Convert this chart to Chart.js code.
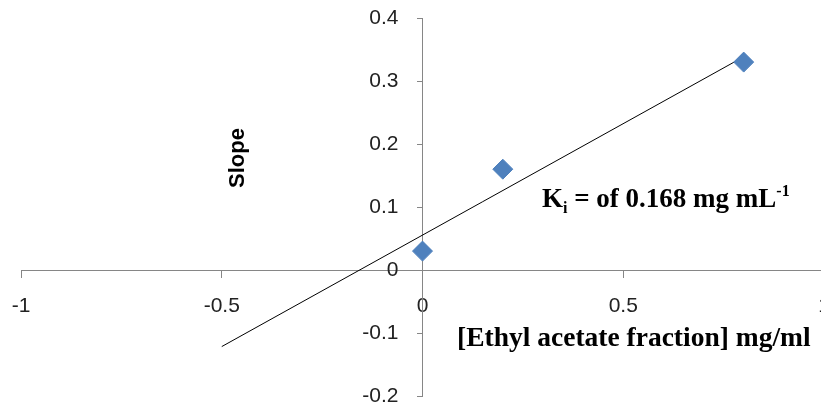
<!DOCTYPE html>
<html>
<head>
<meta charset="utf-8">
<script src="https://cdn.jsdelivr.net/npm/chart.js@4.4.1/dist/chart.umd.min.js"></script>
<style>
  html, body { margin: 0; padding: 0; background: #fff; overflow: hidden; }
  #wrap { width: 821px; height: 408px; overflow: hidden; }
</style>
</head>
<body>
<div id="wrap"><canvas id="myChart1" width="840" height="408"></canvas></div>
<script>
// measured points
var fractionMg = [0, 0.2, 0.8];
var slopeValues = [0.03, 0.16, 0.33];
// trendline drawn back to -0.5, up to the last point
var trendRange = [-0.5, 0.8];
var xTicks = [-1, -0.5, 0, 0.5, 1];
var yTicks = [-0.2, -0.1, 0, 0.1, 0.2, 0.3, 0.4];

// least squares fit for the trendline
var n = fractionMg.length, sx = 0, sy = 0, sxx = 0, sxy = 0;
for (var i = 0; i < n; i++) {
    sx += fractionMg[i]; sy += slopeValues[i];
    sxx += fractionMg[i] * fractionMg[i]; sxy += fractionMg[i] * slopeValues[i];
}
var m = (n * sxy - sx * sy) / (n * sxx - sx * sx);
var b = (sy - m * sx) / n;

var points = fractionMg.map(function (x, i) { return {x: x, y: slopeValues[i]}; });
var trend = trendRange.map(function (x) { return {x: x, y: m * x + b}; });

var axisGrey = '#868686';
var tickFont = {family: '"Liberation Sans", Arial, sans-serif', size: 21};

function fmt(v) { return String(Math.round(v * 10) / 10); }

// y labels sit right on the crossing axis, push them to the left
var yLabelShift = {
    id: 'yLabelShift',
    beforeDraw: function (chart) {
        var items = chart.scales.y.getLabelItems(chart.chartArea);
        items.forEach(function (it) {
            if (!it._moved) { it.options.translation[0] -= 24; it._moved = true; }
        });
    }
};

// text labels on top of the plot
var labelsPlugin = {
    id: 'labels',
    afterDraw: function (chart) {
        var ctx = chart.ctx;
        ctx.save();
        ctx.fillStyle = '#000';
        ctx.textBaseline = 'middle';

        // y title
        ctx.save();
        ctx.translate(238, 158);
        ctx.rotate(-Math.PI / 2);
        ctx.textAlign = 'center';
        ctx.font = 'bold 22px "Liberation Sans", Arial, sans-serif';
        ctx.fillText('Slope', 0, 0);
        ctx.restore();

        // x title
        ctx.textAlign = 'left';
        ctx.textBaseline = 'alphabetic';
        ctx.font = 'bold 27.5px "Liberation Serif", "Times New Roman", serif';
        ctx.fillText('[Ethyl acetate fraction] mg/ml', 457, 346);

        // Ki note
        var x = 542, y = 207;
        ctx.font = 'bold 27px "Liberation Serif", "Times New Roman", serif';
        ctx.fillText('K', x, y); x += ctx.measureText('K').width;
        ctx.font = 'bold 16px "Liberation Serif", "Times New Roman", serif';
        ctx.fillText('i', x, y + 6); x += ctx.measureText('i').width;
        ctx.font = 'bold 27px "Liberation Serif", "Times New Roman", serif';
        var t = ' = of 0.168 mg mL';
        ctx.fillText(t, x, y); x += ctx.measureText(t).width;
        ctx.font = 'bold 16px "Liberation Serif", "Times New Roman", serif';
        ctx.fillText('-1', x, y - 11);
        ctx.restore();
    }
};

var ctx = document.getElementById("myChart1").getContext('2d');
var myChart = new Chart(ctx, {
    type: 'scatter',
    data: {
        datasets: [{
            label: 'trend',
            data: trend,
            showLine: true,
            borderColor: '#000',
            borderWidth: 1,
            pointRadius: 0,
            order: 2
        }, {
            label: 'slope',
            data: points,
            pointStyle: 'rectRot',
            pointRadius: 10,
            pointBackgroundColor: '#4F81BD',
            pointBorderColor: '#4F81BD',
            pointBorderWidth: 1,
            order: 1
        }]
    },
    options: {
        responsive: false,
        animation: false,
        devicePixelRatio: 1,
        layout: {padding: {left: 21, right: 16, top: 18, bottom: 12}},
        plugins: {legend: {display: false}, tooltip: {enabled: false}},
        scales: {
            x: {
                type: 'linear',
                min: -1, max: 1,
                position: {y: 0},
                afterFit: function (s) { s.height = 0; s.paddingLeft = 0; s.paddingRight = 0; },
                afterBuildTicks: function (s) { s.ticks = xTicks.map(function (v) { return {value: v}; }); },
                grid: {drawOnChartArea: false, tickLength: 7, color: axisGrey},
                border: {color: axisGrey},
                ticks: {font: tickFont, color: '#222', padding: 17, maxRotation: 0, autoSkip: false,
                        callback: function (v) { return fmt(v); }}
            },
            y: {
                type: 'linear',
                min: -0.2, max: 0.4,
                position: {x: 0},
                afterFit: function (s) { s.width = 0; s.paddingTop = 0; s.paddingBottom = 0; },
                afterBuildTicks: function (s) { s.ticks = yTicks.map(function (v) { return {value: v}; }); },
                grid: {drawOnChartArea: false, tickLength: 5, color: axisGrey},
                border: {color: axisGrey},
                ticks: {font: tickFont, color: '#222', autoSkip: false,
                        callback: function (v) { return fmt(v); }}
            }
        }
    },
    plugins: [yLabelShift, labelsPlugin]
});
</script>
</body>
</html>
